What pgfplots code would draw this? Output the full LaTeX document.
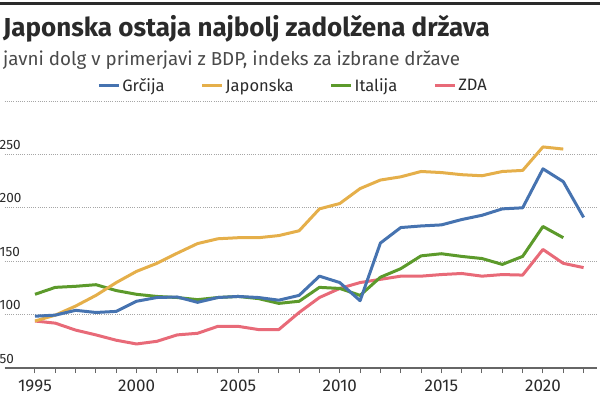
\documentclass[border=0pt]{standalone}
\usepackage{fontspec}
\setmainfont{Fira Sans}
\usepackage{pgfplots}
\pgfplotsset{compat=1.18}
\definecolor{grc}{HTML}{4673B0}
\definecolor{jap}{HTML}{E5AF4A}
\definecolor{ita}{HTML}{5C9A2B}
\definecolor{zda}{HTML}{E86A78}
\definecolor{txt}{HTML}{2A2A2A}
\definecolor{axc}{HTML}{666666}
\begin{document}
\begin{tikzpicture}[x=1bp,y=1bp]
\useasboundingbox (0,0) rectangle (600,398);
\fill[txt] (0,392.5) rectangle (600,396);
\node[anchor=base west,inner sep=0pt,text=txt] at (3,362) {\fontsize{26bp}{28bp}\selectfont\bfseries Japonska ostaja najbolj zadolžena država};
\node[anchor=base west,inner sep=0pt,text=txt!85] at (3,333) {\fontsize{18.8bp}{22bp}\selectfont javni dolg v primerjavi z BDP, indeks za izbrane države};
\begin{axis}[
  at={(4.5bp,30bp)}, anchor=south west,
  scale only axis, width=592.5bp, height=267bp,
  xmin=1993.5, xmax=2022.66, ymin=50, ymax=300,
  axis x line*=bottom, axis y line*=left,
  y axis line style={draw=none},
  x axis line style={draw=axc, line width=1.2bp},
  xtick={1995,2000,...,2020},
  minor xtick={1995,...,2022},
  tick align=outside,
  major tick length=5bp, minor tick length=5bp,
  xtick style={draw=axc, line width=1bp},
  ytick={50,100,...,300},
  yticklabels={50,100,150,200,250,},
  ytick style={draw=none},
  ymajorgrids,
  grid style={draw=black!35, line width=0.8bp, dash pattern=on 1bp off 1.2bp},
  /pgf/number format/assume math mode=true,
  xticklabel style={font=\fontsize{17bp}{19bp}\selectfont, text=txt, yshift=-3bp},
  xticklabel={\pgfmathprintnumber[1000 sep={}]{\tick}},
  yticklabel style={font=\fontsize{13.5bp}{16bp}\selectfont, text=txt, anchor=base west, inner sep=0pt, xshift=0bp, yshift=5bp},
  clip=false,
  every axis plot/.append style={line width=3bp, line join=round},
  legend columns=4,
  reverse legend,
  legend style={draw=none, fill=none, at={(0.487,1)}, anchor=south, yshift=4bp,
    font=\fontsize{16.5bp}{19bp}\selectfont, text=txt,
    /tikz/every even column/.append style={column sep=34bp}},
  legend image code/.code={\draw[#1, line width=3bp] (0bp,0bp) -- (20bp,0bp);},
]
\addplot[zda] coordinates {(1995,94)(1996,92)(1997,85.5)(1998,81)(1999,76)(2000,72.5)(2001,75)(2002,81)(2003,82.5)(2004,89)(2005,89)(2006,86)(2007,86)(2008,102)(2009,116)(2010,124.5)(2011,130)(2012,133)(2013,136)(2014,136)(2015,137.5)(2016,138.5)(2017,136)(2018,137.5)(2019,137)(2020,161)(2021,148)(2022,144)};
\addlegendentry{ZDA}
\addplot[ita] coordinates {(1995,119)(1996,125.5)(1997,126.5)(1998,128)(1999,122.5)(2000,119)(2001,117)(2002,116)(2003,114)(2004,116)(2005,117)(2006,115)(2007,110.5)(2008,112.5)(2009,125.5)(2010,124.5)(2011,118)(2012,135)(2013,143)(2014,155)(2015,157)(2016,154.5)(2017,152.5)(2018,147)(2019,154.5)(2020,182.5)(2021,172)};
\addlegendentry{Italija}
\addplot[jap] coordinates {(1995,94)(1996,99.5)(1997,108)(1998,118)(1999,130)(2000,140.5)(2001,148)(2002,157.5)(2003,166.5)(2004,171)(2005,172)(2006,172)(2007,174)(2008,178.5)(2009,199)(2010,204)(2011,218)(2012,226)(2013,229)(2014,234)(2015,233)(2016,231)(2017,230)(2018,234)(2019,235)(2020,257)(2021,255)};
\addlegendentry{Japonska}
\addplot[grc] coordinates {(1995,98.5)(1996,99.5)(1997,104)(1998,102)(1999,103)(2000,112.5)(2001,116)(2002,116.5)(2003,111.5)(2004,116)(2005,117)(2006,116)(2007,113.5)(2008,118)(2009,136)(2010,130)(2011,113)(2012,167)(2013,181.5)(2014,183)(2015,184)(2016,189)(2017,193)(2018,199)(2019,200)(2020,236.5)(2021,224.5)(2022,191)};
\addlegendentry{Grčija}
\end{axis}
\end{tikzpicture}
\end{document}
